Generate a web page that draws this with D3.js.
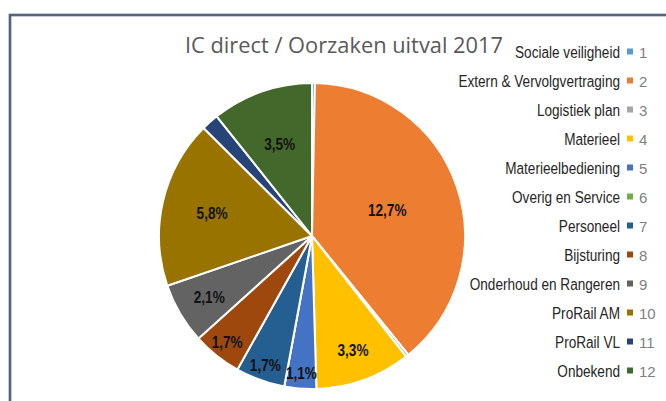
<!DOCTYPE html>
<html><head><meta charset="utf-8">
<script src="https://cdn.jsdelivr.net/npm/d3@7"></script>
<style>html,body{margin:0;padding:0;background:#fff;}svg{display:block;}</style>
</head><body>
<svg id="chart" width="666" height="401"></svg>
<script>
const title = "IC direct / Oorzaken uitval 2017";
const categories = ["Sociale veiligheid","Extern & Vervolgvertraging","Logistiek plan","Materieel","Materieelbediening","Overig en Service","Personeel","Bijsturing","Onderhoud en Rangeren","ProRail AM","ProRail VL","Onbekend"];
const codes = ["1","2","3","4","5","6","7","8","9","10","11","12"];
const values = [0.1, 12.7, 0.1, 3.3, 1.1, 0.0, 1.7, 1.7, 2.1, 5.8, 0.6, 3.5];
const labels = ["","12,7%","","3,3%","1,1%","","1,7%","1,7%","2,1%","5,8%","","3,5%"];
const colors = ["#5B9BD5","#ED7D31","#A5A5A5","#FFC000","#4472C4","#70AD47","#255E91","#9E480E","#636363","#997300","#264478","#43682B"];
// label placement as fraction of radius (layout only)
const labelPos = [0,0.52,0,0.79,0.9,0,0.9,0.89,0.78,0.67,0,0.64];

const svg = d3.select("#chart");
const narrow = 0.8;
// frame
svg.append("path").attr("d","M10,401 V15 H666").attr("fill","none").attr("stroke","#8a97b0").attr("stroke-width",3);
svg.append("path").attr("d","M10,401 V15 H666").attr("fill","none").attr("stroke","#44546A").attr("stroke-width",1.5);

const cx = 312, cy = 236, R = 153;
const pie = d3.pie().value(d => d).sort(null);
const arcs = pie(values);
const arc = d3.arc().innerRadius(0).outerRadius(R);
const g = svg.append("g").attr("transform",`translate(${cx},${cy})`);
g.selectAll("path.slice").data(arcs).join("path")
  .attr("class","slice")
  .attr("d", arc)
  .attr("fill",(d,i)=>colors[i])
  .attr("stroke","#fff").attr("stroke-width",2).attr("stroke-linejoin","round");

g.selectAll("text.lbl").data(arcs).join("text")
  .attr("class","lbl")
  .attr("transform",(d,i)=>{
    const a = (d.startAngle+d.endAngle)/2, r = R*labelPos[i];
    return `translate(${Math.sin(a)*r},${-Math.cos(a)*r}) scale(${narrow},1)`;
  })
  .attr("text-anchor","middle").attr("dy","0.35em")
  .attr("font-family","'Liberation Sans',Arial,sans-serif")
  .attr("font-weight","bold").attr("font-size",17).attr("fill","#111")
  .text((d,i)=>labels[i]);

svg.append("text").attr("x",185).attr("y",53)
  .attr("font-family","'Open Sans','Noto Sans',sans-serif").attr("font-size",21)
  .attr("fill","#595959").attr("textLength",318).attr("lengthAdjust","spacingAndGlyphs")
  .text(title);

const ly = d3.scaleBand().domain(codes).range([37, 385]);
const leg = svg.append("g").selectAll("g").data(categories).join("g")
  .attr("transform",(d,i)=>`translate(0,${ly(codes[i])+ly.bandwidth()/2})`);
leg.append("text").attr("transform",`translate(620,6) scale(${narrow},1)`).attr("text-anchor","end")
  .attr("font-family","'Liberation Sans',Arial,sans-serif")
  .attr("font-size",17).attr("fill","#262626").text(d=>d);
leg.append("rect").attr("x",627).attr("y",-3).attr("width",6).attr("height",6)
  .attr("fill",(d,i)=>colors[i]);
leg.append("text").attr("x",639).attr("y",6)
  .attr("font-family","'Liberation Sans','Arial',sans-serif")
  .attr("font-size",15).attr("fill","#7f7f7f").text((d,i)=>codes[i]);
</script>
</body></html>
